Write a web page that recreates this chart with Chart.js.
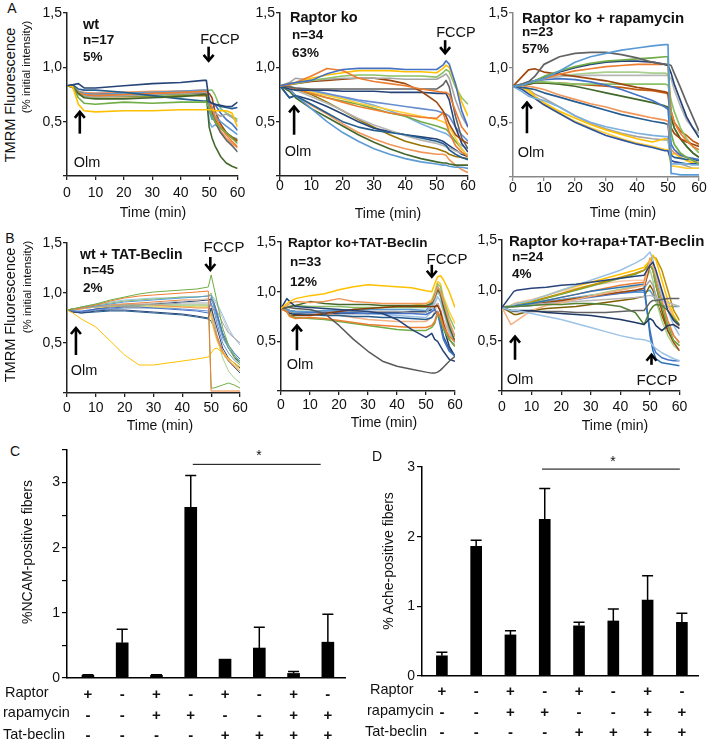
<!DOCTYPE html>
<html><head><meta charset="utf-8">
<script src="https://cdn.jsdelivr.net/npm/chart.js@4.4.0/dist/chart.umd.min.js"></script>
<style>
body{margin:0;background:#fff;}
#wrap{position:relative;width:709px;height:740px;overflow:hidden;font-family:"Liberation Sans",Arial,sans-serif;color:#111;}
canvas{position:absolute;}
.t{position:absolute;white-space:nowrap;line-height:1;z-index:5;}
.c{transform:translate(-50%,-50%);}
.l{transform:translateY(-50%);}
.r{transform:translate(-50%,-50%) rotate(-90deg);}
.b{font-weight:bold;}
</style></head>
<body><div id="wrap">
<canvas id="cA1"></canvas><canvas id="cA2"></canvas><canvas id="cA3"></canvas>
<canvas id="cB1"></canvas><canvas id="cB2"></canvas><canvas id="cB3"></canvas>
<canvas id="cC"></canvas><canvas id="cD"></canvas>

<div class="t c" style="left:12px;top:8px;font-size:14px">A</div>
<div class="t c" style="left:10px;top:238px;font-size:14px">B</div>
<div class="t c" style="left:15px;top:451px;font-size:14px">C</div>
<div class="t c" style="left:377px;top:456px;font-size:14px">D</div>

<div class="t r" style="left:10px;top:95px;font-size:14.5px">TMRM Fluorescence</div>
<div class="t r" style="left:27px;top:67px;font-size:11.5px">(% initial intensity)</div>
<div class="t r" style="left:10px;top:315px;font-size:14.5px">TMRM Fluorescence</div>
<div class="t r" style="left:28px;top:287px;font-size:11.5px">(% initial intensity)</div>

<div class="t c" style="left:153px;top:212px;font-size:14px">Time (min)</div>
<div class="t c" style="left:388px;top:213px;font-size:14px">Time (min)</div>
<div class="t c" style="left:623px;top:212px;font-size:14px">Time (min)</div>
<div class="t c" style="left:160px;top:425px;font-size:14px">Time (min)</div>
<div class="t c" style="left:384px;top:422px;font-size:14px">Time (min)</div>
<div class="t c" style="left:615px;top:425px;font-size:14px">Time (min)</div>

<div class="t l b" style="left:83px;top:24px;font-size:14.5px">wt</div>
<div class="t l b" style="left:83px;top:40px;font-size:13.5px">n=17</div>
<div class="t l b" style="left:83px;top:57px;font-size:13.5px">5%</div>
<div class="t l b" style="left:290px;top:17px;font-size:14.5px">Raptor ko</div>
<div class="t l b" style="left:292px;top:35px;font-size:13.5px">n=34</div>
<div class="t l b" style="left:292px;top:53px;font-size:13.5px">63%</div>
<div class="t l b" style="left:522px;top:17px;font-size:15px">Raptor ko + rapamycin</div>
<div class="t l b" style="left:522px;top:32px;font-size:13.5px">n=23</div>
<div class="t l b" style="left:522px;top:49px;font-size:13.5px">57%</div>
<div class="t l b" style="left:80px;top:254px;font-size:14px">wt + TAT-Beclin</div>
<div class="t l b" style="left:83px;top:270px;font-size:13.5px">n=45</div>
<div class="t l b" style="left:83px;top:288px;font-size:13.5px">2%</div>
<div class="t l b" style="left:288px;top:243px;font-size:13.5px">Raptor ko+TAT-Beclin</div>
<div class="t l b" style="left:290px;top:262px;font-size:13.5px">n=33</div>
<div class="t l b" style="left:290px;top:282px;font-size:13.5px">12%</div>
<div class="t l b" style="left:509px;top:240px;font-size:15px">Raptor ko+rapa+TAT-Beclin</div>
<div class="t l b" style="left:512px;top:257px;font-size:13.5px">n=24</div>
<div class="t l b" style="left:512px;top:274px;font-size:13.5px">4%</div>

<div class="t c" style="left:87px;top:162px;font-size:14.5px">Olm</div>
<div class="t c" style="left:298px;top:151px;font-size:14.5px">Olm</div>
<div class="t c" style="left:531px;top:152px;font-size:14.5px">Olm</div>
<div class="t c" style="left:84px;top:370px;font-size:14.5px">Olm</div>
<div class="t c" style="left:300px;top:364px;font-size:14.5px">Olm</div>
<div class="t c" style="left:520px;top:379px;font-size:14.5px">Olm</div>
<div class="t c" style="left:220px;top:39px;font-size:14.5px">FCCP</div>
<div class="t c" style="left:456px;top:32px;font-size:14.5px">FCCP</div>
<div class="t c" style="left:224px;top:246px;font-size:15px">FCCP</div>
<div class="t c" style="left:447px;top:258px;font-size:15px">FCCP</div>
<div class="t c" style="left:657px;top:379px;font-size:15px">FCCP</div>

<div class="t r" style="left:27px;top:552px;font-size:14px">%NCAM-positive fibers</div>
<div class="t r" style="left:388px;top:561px;font-size:14px">% Ache-positive fibers</div>
<div class="t l" style="left:5px;top:692px;font-size:14.5px">Raptor</div>
<div class="t l" style="left:3px;top:712px;font-size:14.5px">rapamycin</div>
<div class="t l" style="left:3px;top:734px;font-size:14.5px">Tat-beclin</div>
<div class="t l" style="left:370px;top:689px;font-size:14.5px">Raptor</div>
<div class="t l" style="left:367px;top:710px;font-size:14.5px">rapamycin</div>
<div class="t l" style="left:365px;top:731px;font-size:14.5px">Tat-beclin</div>
<div class="t c" style="left:259px;top:455px;font-size:14px">*</div>
<div class="t c" style="left:613px;top:461px;font-size:14px">*</div>
</div>
<script>
// ---------- DATA ----------
const wtTimes = [0,2,4,6,10,20,30,40,48,49,50,51,52,54,56,58,60];
const wtTraces = [
 [0.83,0.84,0.85,0.81,0.81,0.83,0.85,0.86,0.88,0.88,0.69,0.67,0.66,0.65,0.64,0.64,0.68],
 [0.83,0.82,0.66,0.60,0.59,0.60,0.60,0.61,0.61,0.61,0.61,0.61,0.60,0.60,0.60,0.58,0.45],
 [0.83,0.82,0.72,0.67,0.66,0.68,0.67,0.68,0.68,0.68,0.62,0.55,0.50,0.44,0.40,0.35,0.30],
 [0.83,0.82,0.76,0.72,0.71,0.71,0.72,0.73,0.75,0.75,0.45,0.35,0.28,0.18,0.12,0.09,0.07],
 [0.83,0.84,0.80,0.79,0.79,0.77,0.74,0.71,0.69,0.69,0.68,0.67,0.66,0.64,0.63,0.62,0.63],
 [0.83,0.82,0.77,0.75,0.74,0.75,0.76,0.77,0.78,0.78,0.70,0.62,0.55,0.45,0.38,0.32,0.27],
 [0.83,0.82,0.76,0.74,0.73,0.74,0.75,0.76,0.77,0.77,0.72,0.62,0.58,0.55,0.57,0.54,0.50],
 [0.83,0.82,0.78,0.76,0.75,0.76,0.77,0.78,0.79,0.79,0.60,0.52,0.55,0.50,0.46,0.42,0.38],
 [0.83,0.82,0.77,0.75,0.75,0.76,0.76,0.77,0.77,0.77,0.76,0.72,0.60,0.48,0.40,0.35,0.32],
 [0.83,0.82,0.76,0.74,0.74,0.75,0.75,0.76,0.76,0.76,0.70,0.60,0.50,0.40,0.33,0.28,0.22],
 [0.83,0.82,0.78,0.77,0.76,0.77,0.78,0.78,0.79,0.79,0.68,0.58,0.50,0.42,0.35,0.30,0.26],
 [0.83,0.82,0.77,0.76,0.76,0.76,0.77,0.78,0.78,0.78,0.68,0.62,0.66,0.58,0.52,0.48,0.42],
 [0.83,0.82,0.75,0.73,0.73,0.74,0.74,0.75,0.76,0.77,0.79,0.79,0.75,0.62,0.58,0.55,0.52],
 [0.83,0.82,0.77,0.74,0.73,0.73,0.73,0.74,0.74,0.74,0.66,0.58,0.52,0.45,0.40,0.36,0.33],
 [0.83,0.82,0.76,0.75,0.74,0.75,0.76,0.76,0.77,0.77,0.50,0.45,0.47,0.45,0.40,0.36,0.34]
];
const wtColors = ['#264478','#FFC000','#70AD47','#43682B','#255E91','#ED7D31','#A5A5A5','#5B9BD5','#9E480E','#636363','#F1975A','#4472C4','#8CC168','#997300','#7CAFDD'];

const rkoTimes = [0,3,5,10,15,20,25,30,35,40,45,50,52,53,54,56,58,60];
const rkoTraces = [
 [0.83,0.85,0.86,0.88,0.94,0.98,0.99,0.99,0.99,0.98,0.98,0.98,1.02,1.06,1.03,0.85,0.60,0.45],
 [0.83,0.84,0.86,0.92,0.99,0.97,0.90,0.87,0.85,0.83,0.80,0.78,0.77,0.77,0.75,0.60,0.45,0.38],
 [0.83,0.85,0.86,0.90,0.93,0.95,0.97,0.97,0.97,0.96,0.96,0.95,0.99,1.02,1.00,0.85,0.68,0.55],
 [0.83,0.84,0.85,0.88,0.90,0.92,0.93,0.93,0.92,0.92,0.92,0.91,0.95,0.98,0.96,0.82,0.72,0.66],
 [0.83,0.86,0.90,0.88,0.89,0.90,0.90,0.90,0.90,0.89,0.89,0.89,0.92,0.94,0.90,0.70,0.55,0.45],
 [0.83,0.84,0.85,0.87,0.88,0.89,0.90,0.90,0.88,0.85,0.78,0.68,0.60,0.55,0.48,0.38,0.33,0.30],
 [0.83,0.82,0.81,0.80,0.80,0.80,0.80,0.80,0.80,0.80,0.80,0.80,0.84,0.88,0.82,0.55,0.35,0.25],
 [0.83,0.80,0.79,0.79,0.79,0.78,0.78,0.78,0.77,0.77,0.77,0.76,0.76,0.76,0.70,0.45,0.30,0.22],
 [0.83,0.72,0.74,0.66,0.58,0.50,0.45,0.42,0.40,0.38,0.35,0.32,0.30,0.28,0.24,0.20,0.17,0.15],
 [0.83,0.80,0.74,0.62,0.50,0.40,0.32,0.25,0.20,0.16,0.13,0.11,0.10,0.10,0.09,0.08,0.08,0.07],
 [0.83,0.78,0.72,0.62,0.54,0.46,0.38,0.31,0.25,0.20,0.16,0.13,0.12,0.12,0.11,0.10,0.10,0.10],
 [0.83,0.80,0.74,0.65,0.57,0.48,0.40,0.34,0.29,0.25,0.22,0.20,0.20,0.19,0.15,0.10,0.06,0.03],
 [0.83,0.82,0.80,0.76,0.72,0.68,0.64,0.61,0.58,0.56,0.54,0.53,0.58,0.50,0.40,0.28,0.22,0.18],
 [0.83,0.82,0.80,0.77,0.74,0.71,0.67,0.64,0.61,0.58,0.55,0.52,0.50,0.48,0.45,0.35,0.25,0.18],
 [0.83,0.82,0.80,0.76,0.72,0.69,0.66,0.62,0.58,0.55,0.50,0.46,0.44,0.43,0.40,0.32,0.25,0.18],
 [0.83,0.82,0.79,0.73,0.67,0.60,0.53,0.47,0.42,0.37,0.33,0.30,0.28,0.27,0.26,0.23,0.21,0.20],
 [0.83,0.82,0.81,0.79,0.76,0.73,0.70,0.68,0.66,0.64,0.62,0.60,0.58,0.57,0.55,0.45,0.38,0.32],
 [0.83,0.72,0.74,0.70,0.64,0.57,0.50,0.44,0.41,0.38,0.36,0.34,0.32,0.30,0.28,0.24,0.20,0.18],
 [0.83,0.82,0.80,0.78,0.75,0.72,0.69,0.65,0.60,0.55,0.48,0.42,0.40,0.39,0.37,0.32,0.28,0.25],
 [0.83,0.82,0.80,0.75,0.68,0.60,0.52,0.45,0.38,0.32,0.28,0.25,0.23,0.22,0.20,0.18,0.17,0.16]
];
const rkoColors = ['#4472C4','#ED7D31','#FFC000','#8CC168','#A5A5A5','#9E480E','#636363','#264478','#255E91','#5B9BD5','#43682B','#F1975A','#ED7D31','#FFCD33','#70AD47','#B7B7B7','#698ED0','#264478','#7CAFDD','#997300'];

const rapaTimes = [0,3,5,7,10,15,20,25,30,35,40,45,49,50,51,52,54,56,58,60];
const rapaTraces = [
 [0.83,0.84,0.86,0.88,0.90,0.97,1.05,1.10,1.13,1.16,1.18,1.20,1.21,1.21,0.03,0.03,0.02,0.02,0.02,0.02],
 [0.83,0.85,0.87,0.92,1.03,1.10,1.13,1.14,1.14,1.12,1.09,1.05,1.03,1.03,1.02,0.95,0.82,0.68,0.55,0.42],
 [0.83,0.84,0.86,0.88,0.92,0.97,1.01,1.04,1.06,1.07,1.08,1.09,1.10,1.10,0.40,0.30,0.22,0.18,0.15,0.12],
 [0.83,0.84,0.86,0.88,0.91,0.96,1.00,1.03,1.05,1.06,1.06,1.05,1.03,1.02,0.95,0.85,0.70,0.55,0.45,0.36],
 [0.83,0.84,0.86,0.88,0.90,0.94,0.97,0.99,1.01,1.02,1.03,1.03,1.03,1.02,0.60,0.50,0.40,0.33,0.28,0.25],
 [0.83,0.92,0.98,0.99,0.96,0.94,0.92,0.90,0.88,0.85,0.82,0.80,0.78,0.77,0.45,0.40,0.35,0.32,0.30,0.28],
 [0.83,0.85,0.87,0.88,0.90,0.92,0.93,0.93,0.93,0.93,0.93,0.93,0.93,0.93,0.90,0.80,0.65,0.52,0.45,0.40],
 [0.83,0.85,0.87,0.88,0.89,0.90,0.89,0.87,0.84,0.80,0.75,0.70,0.64,0.62,0.30,0.25,0.20,0.18,0.17,0.16],
 [0.83,0.85,0.86,0.87,0.87,0.86,0.85,0.85,0.85,0.85,0.85,0.85,0.85,0.84,0.70,0.60,0.45,0.35,0.28,0.22],
 [0.83,0.84,0.85,0.86,0.86,0.85,0.83,0.80,0.77,0.74,0.71,0.68,0.65,0.64,0.55,0.45,0.35,0.28,0.22,0.18],
 [0.83,0.84,0.85,0.86,0.86,0.86,0.85,0.84,0.83,0.82,0.80,0.79,0.77,0.76,0.60,0.50,0.42,0.38,0.33,0.30],
 [0.83,0.83,0.83,0.82,0.80,0.75,0.71,0.67,0.64,0.60,0.57,0.54,0.52,0.51,0.25,0.22,0.20,0.18,0.15,0.13],
 [0.83,0.82,0.81,0.80,0.77,0.73,0.69,0.65,0.61,0.57,0.54,0.51,0.49,0.48,0.20,0.18,0.17,0.16,0.16,0.15],
 [0.83,0.78,0.74,0.72,0.70,0.64,0.56,0.50,0.46,0.43,0.40,0.38,0.37,0.37,0.12,0.12,0.12,0.12,0.11,0.11],
 [0.83,0.80,0.76,0.72,0.66,0.58,0.50,0.44,0.38,0.34,0.30,0.27,0.24,0.24,0.15,0.14,0.13,0.12,0.12,0.12],
 [0.83,0.82,0.80,0.74,0.68,0.60,0.54,0.48,0.43,0.39,0.35,0.32,0.35,0.35,0.20,0.22,0.18,0.15,0.13,0.12],
 [0.83,0.82,0.78,0.72,0.66,0.58,0.51,0.45,0.40,0.35,0.31,0.28,0.25,0.25,0.10,0.10,0.09,0.08,0.08,0.08],
 [0.83,0.82,0.80,0.76,0.72,0.64,0.56,0.49,0.44,0.40,0.37,0.35,0.34,0.34,0.15,0.14,0.12,0.10,0.08,0.08],
 [0.83,0.85,0.87,0.88,0.90,0.92,0.94,0.95,0.96,0.96,0.96,0.95,0.95,0.94,0.55,0.45,0.35,0.28,0.22,0.18]
];
const rapaColors = ['#5B9BD5','#636363','#70AD47','#264478','#ED7D31','#9E480E','#B7B7B7','#4472C4','#8CC168','#43682B','#C55A11','#F1975A','#255E91','#7CAFDD','#2F55A0','#FFC000','#FFCD33','#A5A5A5','#A9D18E'];

const wtTatTimes = [0,2,5,10,15,20,25,30,35,40,45,49,50,51,52,54,56,58,60];
const wtTatTraces = [
 [0.83,0.84,0.86,0.89,0.93,0.96,0.99,1.01,1.02,1.03,1.04,1.06,1.18,1.05,0.92,0.65,0.48,0.38,0.30],
 [0.83,0.84,0.85,0.88,0.92,0.95,0.97,0.98,0.99,1.00,1.01,1.02,0.02,0.02,0.02,0.02,0.02,0.02,0.02],
 [0.83,0.80,0.74,0.66,0.52,0.38,0.28,0.28,0.30,0.32,0.34,0.36,0.40,0.44,0.45,0.40,0.35,0.30,0.26],
 [0.83,0.84,0.85,0.87,0.89,0.91,0.92,0.93,0.94,0.95,0.96,0.97,0.98,0.85,0.75,0.55,0.45,0.38,0.32],
 [0.83,0.82,0.82,0.84,0.85,0.86,0.86,0.85,0.84,0.83,0.82,0.80,0.95,0.90,0.80,0.60,0.48,0.40,0.34],
 [0.83,0.81,0.80,0.82,0.83,0.83,0.82,0.81,0.80,0.79,0.77,0.75,0.85,0.75,0.65,0.45,0.35,0.30,0.25],
 [0.83,0.84,0.85,0.86,0.87,0.88,0.88,0.89,0.89,0.90,0.90,0.90,0.92,0.90,0.82,0.70,0.60,0.55,0.50],
 [0.83,0.84,0.85,0.87,0.88,0.89,0.89,0.88,0.87,0.86,0.85,0.85,0.80,0.65,0.55,0.40,0.32,0.27,0.22],
 [0.83,0.84,0.86,0.88,0.90,0.92,0.93,0.94,0.95,0.96,0.96,0.97,1.00,0.90,0.80,0.60,0.45,0.35,0.28],
 [0.83,0.84,0.85,0.86,0.86,0.86,0.86,0.86,0.86,0.86,0.86,0.86,0.75,0.62,0.52,0.40,0.33,0.28,0.24],
 [0.83,0.82,0.81,0.83,0.84,0.85,0.85,0.85,0.85,0.84,0.83,0.82,0.90,0.82,0.70,0.50,0.40,0.33,0.28],
 [0.83,0.84,0.86,0.89,0.91,0.93,0.94,0.95,0.95,0.96,0.96,0.97,0.97,0.95,0.90,0.78,0.65,0.55,0.48],
 [0.83,0.81,0.80,0.81,0.82,0.82,0.81,0.80,0.79,0.78,0.76,0.74,0.72,0.65,0.55,0.40,0.32,0.26,0.20],
 [0.83,0.84,0.85,0.86,0.87,0.87,0.87,0.87,0.87,0.87,0.86,0.86,0.84,0.70,0.55,0.35,0.22,0.15,0.10],
 [0.83,0.84,0.85,0.86,0.87,0.88,0.88,0.88,0.88,0.88,0.88,0.88,0.05,0.05,0.06,0.08,0.10,0.08,0.05],
 [0.83,0.84,0.85,0.86,0.87,0.88,0.89,0.90,0.91,0.92,0.93,0.94,0.96,0.93,0.88,0.75,0.62,0.55,0.50],
 [0.83,0.83,0.84,0.86,0.88,0.89,0.90,0.91,0.92,0.93,0.93,0.94,0.90,0.72,0.58,0.42,0.33,0.26,0.20],
 [0.83,0.82,0.81,0.84,0.86,0.87,0.88,0.89,0.90,0.91,0.92,0.93,0.94,0.88,0.78,0.58,0.45,0.36,0.30]
];
const wtTatColors = ['#70AD47','#ED7D31','#FFC000','#5B9BD5','#4472C4','#264478','#A5A5A5','#F1975A','#8CC168','#FFCD33','#698ED0','#9DC3E6','#255E91','#A9D18E','#70AD47','#C9C9C9','#ED7D31','#264478'];

const rkoTatTimes = [0,2,3,5,10,15,20,25,30,35,40,45,50,52,53,54,55,56,58,60];
const rkoTatTraces = [
 [0.83,0.88,0.90,0.93,0.96,0.98,1.02,1.05,1.07,1.06,1.05,1.04,1.01,1.00,1.08,1.15,1.16,1.12,1.00,0.84],
 [0.83,0.84,0.84,0.83,0.82,0.78,0.66,0.52,0.40,0.30,0.25,0.22,0.19,0.18,0.18,0.19,0.21,0.24,0.30,0.35],
 [0.83,0.93,0.90,0.85,0.84,0.83,0.82,0.81,0.80,0.78,0.72,0.62,0.54,0.58,0.52,0.50,0.45,0.40,0.32,0.30],
 [0.83,0.80,0.75,0.73,0.74,0.73,0.71,0.69,0.67,0.66,0.65,0.64,0.64,0.66,0.70,0.80,0.75,0.65,0.55,0.50],
 [0.83,0.80,0.76,0.74,0.73,0.72,0.70,0.68,0.66,0.64,0.62,0.61,0.61,0.64,0.68,0.78,0.72,0.62,0.52,0.45],
 [0.83,0.80,0.76,0.76,0.76,0.78,0.80,0.82,0.83,0.84,0.85,0.85,0.85,0.85,0.85,0.86,0.80,0.68,0.52,0.45],
 [0.83,0.86,0.88,0.90,0.89,0.90,0.93,0.90,0.89,0.88,0.88,0.88,0.88,0.90,0.95,1.05,1.00,0.90,0.70,0.55],
 [0.83,0.84,0.85,0.86,0.90,0.88,0.87,0.87,0.87,0.86,0.86,0.86,0.86,0.88,0.95,1.02,0.98,0.85,0.65,0.50],
 [0.83,0.82,0.81,0.80,0.80,0.81,0.81,0.82,0.82,0.82,0.82,0.82,0.81,0.88,0.95,1.05,1.00,0.88,0.68,0.55],
 [0.83,0.82,0.81,0.80,0.79,0.79,0.79,0.79,0.78,0.78,0.78,0.78,0.77,0.80,0.82,0.78,0.65,0.52,0.40,0.35],
 [0.83,0.82,0.80,0.79,0.79,0.80,0.80,0.80,0.80,0.80,0.80,0.79,0.79,0.85,0.92,1.00,0.95,0.82,0.62,0.50],
 [0.83,0.84,0.85,0.86,0.85,0.85,0.85,0.84,0.84,0.84,0.84,0.84,0.84,0.90,0.98,1.08,1.05,0.92,0.75,0.62],
 [0.83,0.82,0.81,0.80,0.80,0.80,0.81,0.82,0.83,0.84,0.85,0.86,0.88,0.92,1.00,1.10,1.08,0.95,0.80,0.68],
 [0.83,0.82,0.80,0.78,0.77,0.76,0.76,0.75,0.75,0.74,0.74,0.73,0.72,0.74,0.78,0.80,0.70,0.55,0.42,0.35],
 [0.83,0.82,0.81,0.80,0.80,0.80,0.79,0.79,0.78,0.77,0.76,0.75,0.74,0.80,0.88,0.95,0.90,0.80,0.60,0.48],
 [0.83,0.82,0.81,0.80,0.79,0.78,0.76,0.74,0.72,0.71,0.70,0.70,0.70,0.74,0.80,0.88,0.82,0.72,0.58,0.48],
 [0.83,0.82,0.78,0.77,0.77,0.77,0.78,0.78,0.78,0.79,0.79,0.80,0.80,0.82,0.84,0.88,0.80,0.65,0.45,0.35]
];
const rkoTatColors = ['#FFC000','#595959','#264478','#ED7D31','#70AD47','#843C0C','#F1975A','#43682B','#5B9BD5','#4472C4','#A5A5A5','#8CC168','#FFCD33','#255E91','#9DC3E6','#F4B183','#1F3864'];

const allTimes = [0,3,4,5,10,15,20,25,30,35,40,45,48,50,51,52,54,56,58,60];
const allTraces = [
 [0.83,0.95,0.99,1.00,1.02,1.03,1.05,1.06,1.08,1.10,1.12,1.14,1.15,1.25,1.28,1.20,1.00,0.80,0.70,0.65],
 [0.83,0.80,0.80,0.80,0.77,0.74,0.71,0.67,0.63,0.59,0.55,0.52,0.51,0.49,0.45,0.42,0.38,0.35,0.32,0.30],
 [0.83,0.80,0.80,0.80,0.80,0.78,0.77,0.76,0.75,0.73,0.71,0.68,0.66,0.72,0.70,0.65,0.60,0.65,0.66,0.62],
 [0.83,0.80,0.79,0.79,0.79,0.79,0.79,0.78,0.78,0.78,0.79,0.80,0.80,0.88,0.90,0.90,0.91,0.92,0.92,0.92],
 [0.83,0.84,0.84,0.84,0.85,0.86,0.86,0.87,0.87,0.86,0.84,0.78,0.66,0.80,0.84,0.86,0.85,0.80,0.72,0.66],
 [0.83,0.66,0.68,0.70,0.80,0.85,0.88,0.91,0.94,0.97,1.00,1.03,1.05,1.30,1.25,1.15,1.00,0.85,0.72,0.65],
 [0.83,0.84,0.84,0.85,0.87,0.90,0.93,0.96,0.99,1.01,1.03,1.05,1.06,0.55,0.40,0.32,0.28,0.27,0.26,0.25],
 [0.83,0.84,0.85,0.85,0.86,0.87,0.88,0.89,0.90,0.91,0.92,0.93,0.94,0.95,0.94,0.93,0.90,0.88,0.86,0.84],
 [0.83,0.85,0.86,0.87,0.90,0.95,1.00,1.05,1.10,1.15,1.20,1.27,1.32,1.38,1.30,1.15,0.95,0.80,0.65,0.55],
 [0.83,0.85,0.86,0.87,0.90,0.95,1.00,1.04,1.08,1.12,1.16,1.20,1.23,1.30,1.35,1.30,1.10,0.90,0.75,0.65],
 [0.83,0.85,0.86,0.87,0.89,0.93,0.97,1.01,1.05,1.09,1.13,1.17,1.20,1.28,1.33,1.32,1.20,1.00,0.80,0.70],
 [0.83,0.84,0.85,0.86,0.88,0.92,0.96,1.00,1.04,1.08,1.12,1.16,1.20,1.25,1.20,1.05,0.85,0.65,0.50,0.45],
 [0.83,0.84,0.85,0.86,0.87,0.90,0.93,0.96,0.99,1.02,1.05,1.07,1.08,1.32,1.25,1.10,0.90,0.70,0.55,0.48],
 [0.83,0.84,0.84,0.85,0.86,0.88,0.90,0.92,0.94,0.96,0.98,1.00,1.02,1.25,1.20,1.05,0.80,0.60,0.48,0.40],
 [0.83,0.84,0.84,0.85,0.86,0.88,0.90,0.92,0.94,0.96,0.98,1.00,1.02,1.10,1.05,0.95,0.80,0.65,0.55,0.48],
 [0.83,0.84,0.85,0.85,0.86,0.88,0.90,0.92,0.95,0.98,1.01,1.04,1.06,1.20,1.10,0.90,0.70,0.55,0.45,0.40],
 [0.83,0.84,0.84,0.84,0.85,0.87,0.89,0.91,0.93,0.95,0.97,0.99,1.00,0.60,0.45,0.38,0.33,0.31,0.30,0.30],
 [0.83,0.78,0.76,0.76,0.80,0.82,0.83,0.84,0.86,0.88,0.90,0.92,0.94,1.05,1.00,0.90,0.75,0.60,0.50,0.45],
 [0.83,0.85,0.87,0.88,0.91,0.95,0.99,1.02,1.05,1.07,1.09,1.10,1.10,1.28,1.25,1.15,0.95,0.80,0.70,0.62],
 [0.83,0.84,0.85,0.86,0.87,0.89,0.91,0.93,0.95,0.96,0.97,0.98,0.98,1.00,0.95,0.90,0.85,0.84,0.84,0.84]
];
const allColors = ['#264478','#9DC3E6','#1F3864','#636363','#548235','#F4B183','#2E75B6','#B7B7B7','#9BC2E6','#FFC000','#BF9000','#70AD47','#ED7D31','#9E480E','#A5A5A5','#A9D18E','#4472C4','#7F6000','#F8CBAD','#5B9BD5'];

const raptorRow    = ['+','-','+','-','+','-','+','-'];
const rapamycinRow = ['-','-','+','+','-','-','+','+'];
const tatRow       = ['-','-','-','-','+','+','+','+'];
const ncamMeans = [0.04,0.54,0.04,2.62,0.29,0.46,0.07,0.55];
const ncamSem   = [0.01,0.21,0.01,0.49,0.00,0.32,0.03,0.43];
const acheMeans = [0.29,1.86,0.59,2.25,0.72,0.79,1.09,0.77];
const acheSem   = [0.05,0.09,0.06,0.44,0.05,0.17,0.35,0.13];

// ---------- DRAWING ----------
const FONT = '"Liberation Sans", Arial, sans-serif';
const overlay = {
  id: 'overlay',
  afterDatasetsDraw(chart, args, o) {
    const ctx = chart.ctx, xs = chart.scales.x, ys = chart.scales.y;
    ctx.save();
    ctx.strokeStyle = '#000';
    (o.arrows || []).forEach(a => {
      const px = xs.getPixelForValue(a.x), p1 = ys.getPixelForValue(a.from), p2 = ys.getPixelForValue(a.to);
      const dir = p2 < p1 ? -1 : 1;
      ctx.lineWidth = 2.6; ctx.lineCap = 'butt'; ctx.lineJoin = 'miter';
      ctx.beginPath(); ctx.moveTo(px, p1); ctx.lineTo(px, p2 - dir * 1); ctx.stroke();
      ctx.beginPath(); ctx.moveTo(px - 5, p2 - dir * 6); ctx.lineTo(px, p2); ctx.lineTo(px + 5, p2 - dir * 6); ctx.stroke();
    });
    if (o.means) {
      ctx.lineWidth = 1.5;
      o.means.forEach((m, i) => {
        if (!o.sem[i]) return;
        const px = xs.getPixelForValue(i), y0 = ys.getPixelForValue(m), y1 = ys.getPixelForValue(m + o.sem[i]);
        ctx.beginPath(); ctx.moveTo(px, y0); ctx.lineTo(px, y1); ctx.moveTo(px - 5.5, y1); ctx.lineTo(px + 5.5, y1); ctx.stroke();
      });
    }
    if (o.sig) {
      ctx.lineWidth = 1;
      const y = ys.getPixelForValue(o.sig.y);
      ctx.beginPath(); ctx.moveTo(xs.getPixelForValue(o.sig.x1), y); ctx.lineTo(xs.getPixelForValue(o.sig.x2), y); ctx.stroke();
    }
    ctx.restore();
  }
};

function setupCanvas(id, box, yW, padT, padR, xH) {
  const c = document.getElementById(id);
  c.width = box.R - box.L + yW + padR;
  c.height = box.B - box.T + padT + xH;
  c.style.left = (box.L - yW) + 'px';
  c.style.top = (box.T - padT) + 'px';
  return c;
}

function lineChart(id, box, times, traces, colors, cfg) {
  const yW = 40, padT = 10, padR = 11, xH = 34;
  const c = setupCanvas(id, box, yW, padT, padR, xH);
  const axis = cfg.axis || '#222';
  new Chart(c, {
    type: 'line',
    data: {
      datasets: traces.map((vals, i) => ({
        data: times.map((t, j) => ({ x: t, y: vals[j] })),
        borderColor: colors[i], borderWidth: cfg.lw, pointRadius: 0, tension: 0, fill: false, borderJoinStyle: 'round'
      }))
    },
    options: {
      responsive: false, animation: false, devicePixelRatio: 1,
      layout: { padding: { top: padT, right: padR, left: 0, bottom: 0 } },
      plugins: { legend: { display: false }, tooltip: { enabled: false }, overlay: { arrows: cfg.arrows } },
      scales: {
        x: {
          type: 'linear', min: 0, max: 60, offset: false,
          ticks: { stepSize: 10, maxRotation: 0, autoSkip: false, padding: cfg.xPad, color: '#111', font: { family: FONT, size: 14 } },
          grid: { display: true, drawOnChartArea: false, drawTicks: true, tickLength: 4, color: axis, lineWidth: 1.3 },
          border: { display: true, color: axis, width: 1.5 },
          afterFit: s => { s.height = xH; }
        },
        y: {
          min: 0, max: 1.5,
          ticks: { stepSize: 0.5, padding: 1, color: '#111', font: { family: FONT, size: 14 },
                   callback: v => (v === 0 ? '' : v.toFixed(1).replace('.', ',')) },
          grid: { display: true, drawOnChartArea: false, drawTicks: true, tickLength: 4, color: axis, lineWidth: 1.3 },
          border: { display: true, color: axis, width: 1.5 },
          afterFit: s => { s.width = yW; }
        }
      }
    },
    plugins: [overlay]
  });
}

function barChart(id, box, means, sem, cfg) {
  const yW = 40, padT = 12, padR = 10, xH = 75;
  const c = setupCanvas(id, box, yW, padT, padR, xH);
  new Chart(c, {
    type: 'bar',
    data: { datasets: [{ data: means.map((m, i) => ({ x: i, y: m })), backgroundColor: '#000', borderWidth: 0, barThickness: cfg.bw }] },
    options: {
      responsive: false, animation: false, devicePixelRatio: 1,
      layout: { padding: { top: padT, right: padR, left: 0, bottom: 0 } },
      plugins: { legend: { display: false }, tooltip: { enabled: false }, overlay: { means: means, sem: sem, sig: cfg.sig } },
      scales: {
        x: {
          type: 'linear', min: cfg.xmin, max: cfg.xmax, offset: false,
          afterBuildTicks: s => { s.ticks = means.map((_, i) => ({ value: i })); },
          ticks: { autoSkip: false, maxRotation: 0, padding: cfg.rowPad, color: '#111',
                   font: { family: FONT, size: 15, weight: 'bold', lineHeight: 1.38 },
                   callback: (v, i) => [raptorRow[i], rapamycinRow[i], tatRow[i]] },
          grid: { display: false, offset: false },
          border: { display: true, color: '#000', width: 1.5 },
          afterFit: s => { s.height = xH; }
        },
        y: {
          min: 0, max: cfg.ymax,
          ticks: { stepSize: cfg.step, padding: 2, color: '#111', font: { family: FONT, size: 14 },
                   callback: v => (Number.isInteger(v) ? String(v) : '') },
          grid: { display: true, drawOnChartArea: false, drawTicks: true, tickLength: 5, color: '#000', lineWidth: 1.2 },
          border: { display: true, color: '#000', width: 1.5 },
          afterFit: s => { s.width = yW; }
        }
      }
    },
    plugins: [overlay]
  });
}

lineChart('cA1', { L: 67, T: 13, R: 239, B: 176 }, wtTimes, wtTraces, wtColors,
  { lw: 1.6, xPad: 4.6, arrows: [{ x: 4.5, from: 0.39, to: 0.59 }, { x: 49.8, from: 1.19, to: 1.06 }] });
lineChart('cA2', { L: 280, T: 13, R: 468, B: 176 }, rkoTimes, rkoTraces, rkoColors,
  { lw: 1.6, xPad: -2.5, arrows: [{ x: 4.5, from: 0.38, to: 0.64 }, { x: 52.7, from: 1.25, to: 1.13 }] });
lineChart('cA3', { L: 513, T: 13, R: 699, B: 177 }, rapaTimes, rapaTraces, rapaColors,
  { lw: 1.7, xPad: -1.5, axis: '#888', arrows: [{ x: 4.5, from: 0.40, to: 0.68 }] });
lineChart('cB1', { L: 67, T: 243, R: 240, B: 393 }, wtTatTimes, wtTatTraces, wtTatColors,
  { lw: 1.0, xPad: 2.6, arrows: [{ x: 3.1, from: 0.38, to: 0.65 }, { x: 49.7, from: 1.36, to: 1.23 }] });
lineChart('cB2', { L: 281, T: 242, R: 455, B: 391 }, rkoTatTimes, rkoTatTraces, rkoTatColors,
  { lw: 1.5, xPad: 1.6, arrows: [{ x: 5.5, from: 0.41, to: 0.66 }, { x: 52, from: 1.27, to: 1.15 }] });
lineChart('cB3', { L: 502, T: 240, R: 680, B: 391 }, allTimes, allTraces, allColors,
  { lw: 1.5, xPad: 3.6, arrows: [{ x: 4.4, from: 0.31, to: 0.54 }, { x: 50.5, from: 0.26, to: 0.36 }] });

barChart('cC', { L: 67, T: 450, R: 345, B: 678 }, ncamMeans, ncamSem,
  { bw: 12, xmin: -0.61, xmax: 7.5, ymax: 3.5, step: 0.5, rowPad: -1.5, sig: { x1: 3.06, x2: 6.79, y: 3.28 } });
barChart('cD', { L: 422, T: 467, R: 698, B: 676 }, acheMeans, acheSem,
  { bw: 11, xmin: -0.58, xmax: 7.47, ymax: 3, step: 1, rowPad: -2.5, sig: { x1: 2.92, x2: 6.94, y: 2.97 } });
</script>
</body></html>
